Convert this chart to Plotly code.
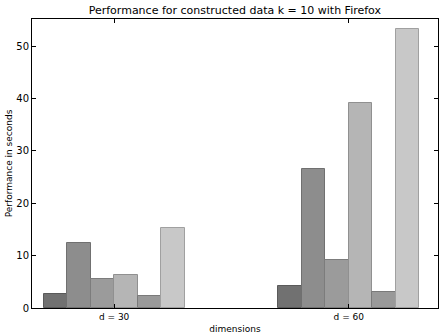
import plotly.graph_objects as go

categories = ["d = 30", "d = 60"]
series_1 = [2.7, 4.2]
series_2 = [12.4, 26.6]
series_3 = [5.5, 9.2]
series_4 = [6.25, 39.2]
series_5 = [2.2, 3.1]
series_6 = [15.3, 53.3]
all_series = [series_1, series_2, series_3, series_4, series_5, series_6]
colors = ["#717171", "#8d8d8d", "#9b9b9b", "#b5b5b5", "#999999", "#c8c8c8"]
edge_colors = ["#5a5a5a", "#707070", "#7c7c7c", "#909090", "#7a7a7a", "#a0a0a0"]

width = 0.1
ind = [0, 1]

fig = go.Figure()
for i, vals in enumerate(all_series):
    fig.add_trace(go.Bar(
        x=[g + i * width + width / 2 for g in ind],
        y=vals,
        width=width,
        marker=dict(color=colors[i], line=dict(color=edge_colors[i], width=1)),
        showlegend=False,
    ))

font = "DejaVu Sans, sans-serif"
fig.update_layout(
    width=439, height=335,
    margin=dict(l=32, r=1, t=19, b=27),
    plot_bgcolor="white", paper_bgcolor="white",
    barmode="overlay", bargap=0,
    font=dict(family=font, size=9, color="black"),
    title=dict(text="Performance for constructed data k = 10 with Firefox",
               x=0.535, xanchor="center", y=1 - 10 / 335, yanchor="middle",
               font=dict(family=font, size=11, color="black")),
    xaxis=dict(
        range=[-0.05, 1.68],
        tickvals=[g + 3 * width for g in ind], ticktext=categories,
        ticks="inside", ticklen=4, tickcolor="black",
        showline=True, linecolor="black", linewidth=1, mirror="ticks",
        showgrid=False, zeroline=False,
        title=dict(text="dimensions", standoff=4, font=dict(family=font, size=9)),
        tickfont=dict(family=font, size=9),
    ),
    yaxis=dict(
        range=[0, 55.2],
        tickvals=[0, 10, 20, 30, 40, 50],
        ticks="inside", ticklen=4, tickcolor="black",
        showline=True, linecolor="black", linewidth=1, mirror="ticks",
        showgrid=False, zeroline=False,
        title=dict(text="Performance in seconds", standoff=2, font=dict(family=font, size=9)),
        tickfont=dict(family=font, size=10),
    ),
)

fig.write_html("out.html")
